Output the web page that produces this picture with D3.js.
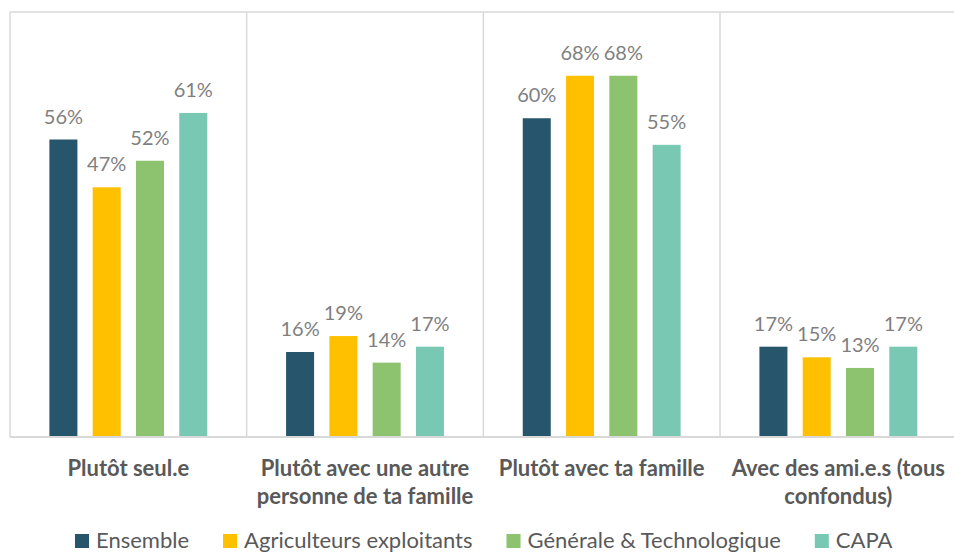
<!DOCTYPE html>
<html>
<head>
<meta charset="utf-8">
<script src="https://cdn.jsdelivr.net/npm/d3@7"></script>
<style>
  html, body { margin: 0; padding: 0; background: #fff; }
  svg { display: block; font-family: Lato, "Open Sans", sans-serif; }
</style>
</head>
<body>
<svg id="chart" width="954" height="553"></svg>
<script>
// Categories (each label split into its display lines)
const categories = [
  ["Plutôt seul.e"],
  ["Plutôt avec une autre", "personne de ta famille"],
  ["Plutôt avec ta famille"],
  ["Avec des ami.e.s (tous", "confondus)"]
];
const seriesNames = ["Ensemble", "Agriculteurs exploitants", "Générale & Technologique", "CAPA"];
const seriesColors = ["#27556b", "#ffc000", "#8dc26e", "#79c8b3"];

// Percent values, one array per series, in category order
const ensemble     = [56, 16, 60, 17];
const agriculteurs = [47, 19, 68, 15];
const generale     = [52, 14, 68, 13];
const capa         = [61, 17, 55, 17];
const seriesValues = [ensemble, agriculteurs, generale, capa];

const svg = d3.select("#chart");
const plot = { left: 10, right: 956.7, top: 12, bottom: 437 };

const x0 = d3.scaleBand()
  .domain(d3.range(categories.length))
  .range([plot.left, plot.right])
  .padding(0);

const x1 = d3.scaleBand()
  .domain(d3.range(seriesNames.length))
  .range([0, x0.bandwidth()])
  .paddingInner(0.353)
  .paddingOuter(0.91);

const y = d3.scaleLinear().domain([0, 80]).range([plot.bottom, plot.top]);

const gridColor = "#d9d9d9";

// Frame: top, left, category dividers
const frame = svg.append("g").attr("stroke", gridColor).attr("stroke-width", 1.5).attr("fill", "none");
frame.append("line").attr("x1", plot.left).attr("x2", plot.right).attr("y1", y(80)).attr("y2", y(80));
d3.range(categories.length + 1).forEach(i => {
  const xx = i < categories.length ? x0(i) : plot.right;
  frame.append("line").attr("x1", xx).attr("x2", xx).attr("y1", y(80)).attr("y2", y(0));
});

// Bars and value labels
const groups = svg.append("g").selectAll("g")
  .data(categories)
  .join("g")
  .attr("transform", (d, i) => `translate(${x0(i)},0)`);

groups.each(function (cat, ci) {
  const g = d3.select(this);
  const rows = seriesValues.map((vals, si) => ({ si, v: vals[ci] }));
  g.selectAll("rect")
    .data(rows)
    .join("rect")
    .attr("x", d => x1(d.si))
    .attr("width", x1.bandwidth())
    .attr("y", d => y(d.v))
    .attr("height", d => y(0) - y(d.v))
    .attr("fill", d => seriesColors[d.si]);
  g.selectAll("text")
    .data(rows)
    .join("text")
    .attr("x", d => x1(d.si) + x1.bandwidth() / 2)
    .attr("y", d => y(d.v) - 16)
    .attr("text-anchor", "middle")
    .attr("fill", "#7f7f7f")
    .attr("font-size", 20)
    .text(d => d.v + "%");
});

// Baseline
svg.append("line")
  .attr("x1", plot.left).attr("x2", plot.right)
  .attr("y1", y(0)).attr("y2", y(0))
  .attr("stroke", gridColor).attr("stroke-width", 2);

// Category labels
const catLabels = svg.append("g").selectAll("text")
  .data(categories)
  .join("text")
  .attr("text-anchor", "middle")
  .attr("font-weight", "bold")
  .attr("font-size", 22)
  .attr("fill", "#595959");
catLabels.each(function (lines, i) {
  d3.select(this).selectAll("tspan")
    .data(lines)
    .join("tspan")
    .attr("x", x0(i) + x0.bandwidth() / 2)
    .attr("y", (d, li) => 476 + li * 28)
    .text(d => d);
});

// Legend
const legend = svg.append("g");
let lx = 75;
const gap = 34;
seriesNames.forEach((name, i) => {
  legend.append("rect")
    .attr("x", lx).attr("y", 534)
    .attr("width", 14).attr("height", 14)
    .attr("fill", seriesColors[i]);
  const t = legend.append("text")
    .attr("x", lx + 21).attr("y", 548)
    .attr("font-size", 22)
    .attr("fill", "#595959")
    .text(name);
  lx += 21 + t.node().getComputedTextLength() + gap;
});
</script>
</body>
</html>
